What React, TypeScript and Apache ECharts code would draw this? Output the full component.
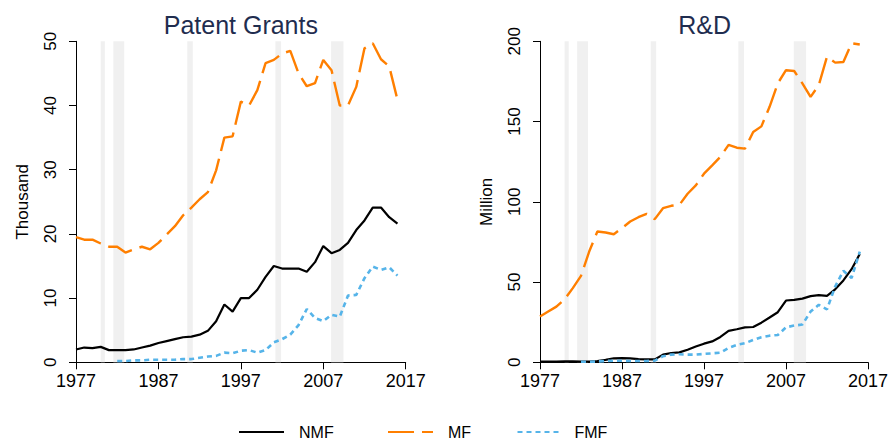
import React, { useEffect, useRef } from "react";
import * as echarts from "echarts";

const FONT = "'Liberation Sans', Arial, Helvetica, sans-serif";
const X0 = 1977;

const years = [
  1977, 1978, 1979, 1980, 1981, 1982, 1983, 1984, 1985, 1986,
  1987, 1988, 1989, 1990, 1991, 1992, 1993, 1994, 1995, 1996,
  1997, 1998, 1999, 2000, 2001, 2002, 2003, 2004, 2005, 2006,
  2007, 2008, 2009, 2010, 2011, 2012, 2013, 2014, 2015, 2016,
];

// Patent grants, thousand
const patNMF = [
  2.0, 2.3, 2.2, 2.4, 1.9, 1.9, 1.9, 2.0, 2.3, 2.6,
  3.0, 3.3, 3.6, 3.9, 4.0, 4.3, 4.9, 6.4, 9.0, 7.9,
  10.0, 10.0, 11.3, 13.3, 15.0, 14.6, 14.6, 14.6, 14.1, 15.6,
  18.1, 17.0, 17.5, 18.6, 20.6, 22.1, 24.1, 24.1, 22.6, 21.6,
];
const patMF = [
  19.5, 19.1, 19.1, 18.5, 18.0, 18.0, 17.1, 17.6, 18.0, 17.6,
  18.6, 19.9, 21.2, 22.9, 24.1, 25.4, 26.5, 29.9, 35.0, 35.2,
  40.6, 40.0, 42.4, 46.6, 47.1, 48.1, 48.5, 45.0, 43.0, 43.5,
  47.1, 45.5, 40.0, 40.0, 42.9, 48.9, 49.7, 47.2, 46.1, 40.9,
];
const patFMF = [
  null, null, null, null, null, 0.2, 0.2, 0.3, 0.3, 0.4,
  0.4, 0.4, 0.4, 0.5, 0.5, 0.7, 0.9, 1.0, 1.5, 1.4,
  1.8, 1.9, 1.5, 1.9, 3.1, 3.6, 4.3, 5.8, 8.3, 6.9,
  6.4, 7.4, 7.1, 10.4, 10.5, 13.1, 14.9, 14.4, 14.8, 13.5,
];

// R&D, million
const rdNMF = [
  0.5, 0.5, 0.5, 0.6, 0.6, 0.4, 0.5, 0.8, 1.5, 2.5,
  2.6, 2.5, 2.0, 1.8, 1.8, 4.8, 5.8, 6.2, 7.8, 9.8,
  11.6, 13.0, 15.8, 19.6, 20.6, 21.8, 22.0, 24.7, 27.9, 31.2,
  38.5, 38.9, 39.7, 41.2, 41.8, 41.4, 45.5, 51.0, 58.0, 67.5,
];
const rdMF = [
  28.5, 31.6, 34.7, 39.3, 46.2, 53.8, 69.0, 81.5, 80.9, 79.8,
  83.6, 87.7, 90.4, 92.5, 89.2, 96.0, 97.5, 98.1, 105.0, 110.2,
  117.5, 122.7, 128.0, 135.5, 133.7, 133.1, 143.5, 147.0, 159.2, 173.8,
  182.0, 181.5, 173.8, 165.4, 172.7, 190.4, 186.7, 187.1, 198.8, 198.0,
];
const rdFMF = [
  null, null, null, null, null, 0.3, 0.3, 0.5, 0.8, 1.0,
  1.0, 0.8, 0.8, 0.8, 1.0, 3.8, 4.8, 5.0, 4.8, 4.8,
  5.2, 5.6, 6.0, 9.0, 10.8, 11.9, 13.9, 15.6, 16.6, 17.0,
  21.8, 22.9, 23.5, 31.6, 35.8, 33.0, 47.2, 57.0, 52.5, 69.0,
];

// Recession periods (fractional years)
const recessions: [number, number][] = [
  [1980.0, 1980.5],
  [1981.53, 1982.85],
  [1990.5, 1991.17],
  [2001.19, 2001.88],
  [2007.95, 2009.45],
];

const xTickLabels = [1977, 1987, 1997, 2007, 2017];
const panelTitles = ["Patent Grants", "R&D"];
const panelUnits = ["Thousand", "Million"];
const yMax = [50, 200];
const yStep = [10, 50];

const seriesNames = ["NMF", "MF", "FMF"];
const seriesColors = ["#000000", "#ff7f00", "#56b4e9"];
const seriesDash: any[] = ["solid", [26, 8], [5, 4]];
const seriesWidth = [2.2, 2.4, 2.6];

const toPairs = (vals: (number | null)[]) =>
  years
    .map((y, i) => [y - X0, vals[i]] as [number, number | null])
    .filter((p) => p[1] !== null);

export default function App() {
  const ref = useRef<HTMLDivElement>(null);

  useEffect(() => {
    document.body.style.margin = "0";
    if (!ref.current) return;
    const chart = echarts.init(ref.current, undefined, { renderer: "svg" });

    const grids = [
      { left: 76, top: 41.3, width: 329.7, height: 321 },
      { left: 540, top: 41.3, width: 329.3, height: 321 },
    ];

    const panelData = [
      [patNMF, patMF, patFMF],
      [rdNMF, rdMF, rdFMF],
    ];

    const xAxes = grids.map((_, i) => ({
      type: "value",
      gridIndex: i,
      min: 0,
      max: 40,
      interval: 10,
      splitLine: { show: false },
      axisLine: { show: true, onZero: false, lineStyle: { color: "#000", width: 1 } },
      axisTick: { show: true, length: 7, lineStyle: { color: "#000", width: 1 } },
      axisLabel: {
        margin: 10,
        fontSize: 18,
        fontFamily: FONT,
        color: "#000",
        formatter: (v: number) => {
          const y = v + X0;
          return xTickLabels.includes(y) ? String(y) : "";
        },
      },
    }));

    const yAxes = grids.map((_, i) => ({
      type: "value",
      gridIndex: i,
      min: 0,
      max: yMax[i],
      interval: yStep[i],
      name: panelUnits[i],
      nameLocation: "middle",
      nameGap: 45,
      nameTextStyle: { fontSize: 17, fontFamily: FONT, color: "#000" },
      splitLine: { show: false },
      axisLine: { show: true, lineStyle: { color: "#000", width: 1 } },
      axisTick: { show: true, length: 7, lineStyle: { color: "#000", width: 1 } },
      axisLabel: {
        rotate: 90,
        margin: 17,
        fontSize: 17,
        fontFamily: FONT,
        color: "#000",
      },
    }));

    const series: any[] = [];
    grids.forEach((_, gi) => {
      series.push({
        type: "line",
        name: "recession" + gi,
        xAxisIndex: gi,
        yAxisIndex: gi,
        data: toPairs(panelData[gi][0]),
        symbol: "none",
        silent: true,
        z: 1,
        lineStyle: { opacity: 0, width: 0 },
        markArea: {
          silent: true,
          itemStyle: { color: "#f0f0f0" },
          data: recessions.map(([a, b]) => [{ xAxis: a - X0 }, { xAxis: b - X0 }]),
        },
      });
      seriesNames.forEach((name, si) => {
        series.push({
          type: "line",
          name,
          xAxisIndex: gi,
          yAxisIndex: gi,
          data: toPairs(panelData[gi][si]),
          symbol: "none",
          showSymbol: false,
          z: 3 + si,
          color: seriesColors[si],
          lineStyle: {
            color: seriesColors[si],
            width: seriesWidth[si],
            type: seriesDash[si],
          },
        });
      });
    });

    const legendLefts = [238, 387, 516.5];
    const legendPads = [10, 10, 7];

    chart.setOption({
      animation: false,
      backgroundColor: "#ffffff",
      grid: grids,
      xAxis: xAxes,
      yAxis: yAxes,
      legend: seriesNames.map((name, i) => ({
        data: [name],
        left: legendLefts[i],
        top: 424,
        padding: 0,
        itemWidth: 45,
        itemHeight: 16,
        selectedMode: false,
        itemStyle: { opacity: 0 },
        textStyle: {
          fontSize: 16,
          lineHeight: 16,
          fontFamily: FONT,
          color: "#000",
          padding: [0, 0, 0, legendPads[i]],
        },
      })),
      graphic: panelTitles.map((t, i) => ({
        type: "text",
        x: grids[i].left + grids[i].width / 2,
        y: 25,
        style: {
          text: t,
          fontSize: 25,
          fontFamily: FONT,
          fill: "#1f2d4f",
          textAlign: "center",
          textVerticalAlign: "middle",
        },
      })),
      series,
    });

    return () => chart.dispose();
  }, []);

  return <div ref={ref} style={{ width: 891, height: 439 }} />;
}
